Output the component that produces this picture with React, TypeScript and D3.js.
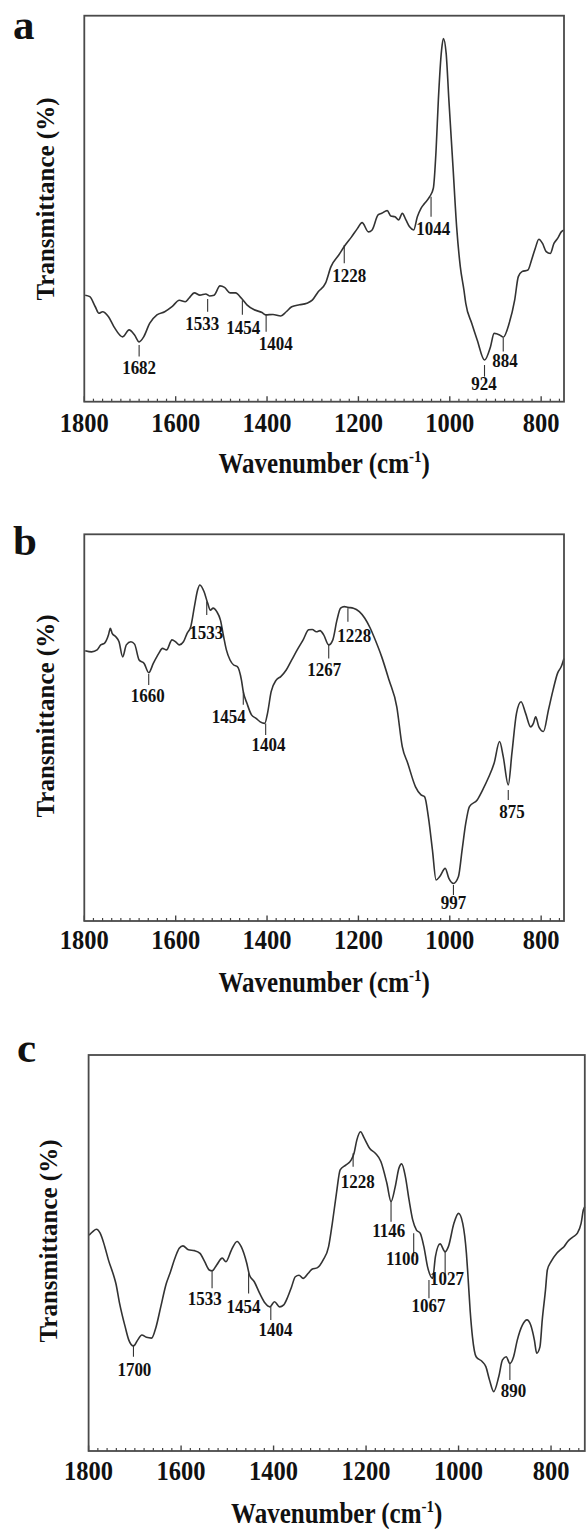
import React from "react";
import * as d3 from "d3";

// ---------- data ----------
const xTickValues = [1800, 1600, 1400, 1200, 1000, 800];

// Panel a
const aWn = [1798,1788,1776,1768,1760,1747,1735,1716,1702,1690,1680,1670,1657,1641,1624,1608,1592,1579,1571,1559,1547,1534,1526,1516,1503,1493,1481,1469,1456,1444,1428,1411,1403,1387,1370,1358,1346,1329,1313,1301,1288,1272,1260,1243,1231,1215,1202,1192,1178,1170,1157,1149,1137,1129,1120,1112,1104,1096,1088,1079,1071,1063,1055,1044,1036,1030,1025,1018,1014,1008,1002,993,985,977,969,965,952,940,924,911,903,891,883,870,858,850,842,829,821,813,805,797,789,780,772,764,756,750];
const aT = [27.6,27.2,24.6,22.9,23.3,22.0,19.4,16.8,18.6,17.3,15.5,16.8,20.3,22.5,23.3,24.6,26.3,25.9,26.8,28.2,27.6,27.9,27.4,27.6,30.0,29.6,28.2,28.2,26.8,25.1,23.8,23.1,22.5,22.6,22.2,23.3,24.6,25.1,25.5,26.3,28.5,30.7,35.0,38.0,40.2,42.7,44.9,46.4,44.0,44.5,48.4,48.8,49.5,48.1,47.9,47.1,48.8,47.1,45.3,44.5,47.9,50.1,51.4,53.1,55.3,65.2,78.2,91.1,94.1,90.3,78.2,60.9,45.3,35.0,28.9,25.5,20.3,16.0,10.8,14.2,17.7,17.3,16.7,20.3,26.3,32.4,33.7,34.1,36.7,39.7,42.1,41.0,38.9,38.4,41.0,42.3,44.0,44.5];
const aLabels = ["1682","1533","1454","1404","1228","1044","924","884"];
const aTickWn = [1680,1530,1454,1402,1231,1041,924,883];
const aTickT1 = [14.7,26.6,26.3,22.5,40.6,53.1,9.5,16.5];
const aTickT2 = [11.7,23.3,22.5,18.1,35.9,47.9,6.5,13.0];
const aLabelWn = [1680,1542,1452,1381,1220,1036,925,879];
const aLabelT = [7.2,18.6,17.5,13.4,31.1,43.2,3.0,9.0];

// Panel b
const bWn = [1798,1784,1772,1764,1756,1747,1743,1739,1731,1724,1716,1708,1698,1690,1680,1669,1659,1649,1637,1629,1620,1608,1600,1592,1583,1575,1567,1559,1552,1547,1538,1530,1524,1518,1510,1502,1495,1489,1481,1473,1465,1456,1452,1444,1434,1424,1415,1405,1399,1391,1380,1370,1358,1346,1334,1321,1309,1301,1292,1284,1276,1265,1256,1247,1239,1231,1223,1211,1198,1186,1174,1166,1149,1133,1116,1104,1092,1075,1063,1055,1047,1038,1030,1022,1010,1002,992,981,973,965,957,940,928,916,903,891,883,872,864,854,844,834,823,817,812,805,795,784,774,764,756,750];
const bT = [69.9,69.6,70.1,71.4,71.8,74.0,75.7,74.4,73.5,72.2,68.3,71.4,72.2,71.6,67.5,66.6,64.2,66.6,69.2,70.5,70.1,72.7,72.2,71.4,72.2,74.4,76.1,81.3,85.6,86.9,85.2,82.2,80.4,80.9,80.0,77.8,73.5,70.1,67.5,66.2,65.8,62.3,59.3,56.3,53.3,52.4,51.5,51.1,53.7,59.3,62.3,63.2,64.9,67.5,70.1,72.7,75.3,75.4,74.8,75.1,74.0,71.4,72.7,77.8,80.9,81.3,81.1,80.9,80.0,78.3,75.7,73.5,68.3,62.3,55.4,45.1,40.8,34.7,32.6,32.1,27.0,18.4,10.6,11.5,13.6,11.0,9.7,11.5,18.4,25.3,29.6,31.3,33.9,36.9,40.8,46.4,42.5,35.2,43.4,53.7,56.7,53.7,50.2,51.1,52.8,50.2,49.0,54.6,59.7,64.1,65.8,67.9];
const bLabels = ["1660","1533","1454","1404","1267","1228","875","997"];
const bTickWn = [1659,1532,1452,1403,1265,1223,872,992];
const bTickT1 = [63.9,82.6,59.3,51.1,71.4,80.9,33.9,9.3];
const bTickT2 = [61.0,79.1,55.9,48.1,67.9,77.4,31.3,6.7];
const bLabelWn = [1661,1533,1484,1397,1275,1209,864,992];
const bLabelT = [56.6,72.9,51.1,44.0,63.4,72.2,26.6,3.0];

// Panel c
const cWn = [1799,1791,1783,1775,1765,1757,1745,1741,1733,1721,1713,1703,1694,1685,1675,1664,1654,1644,1632,1624,1612,1604,1596,1584,1571,1559,1549,1539,1533,1523,1511,1503,1491,1479,1470,1458,1452,1442,1430,1418,1408,1398,1387,1378,1369,1361,1353,1345,1336,1325,1317,1305,1293,1281,1273,1264,1256,1244,1232,1226,1220,1212,1204,1192,1180,1168,1155,1146,1137,1129,1123,1115,1107,1099,1091,1083,1075,1067,1056,1050,1040,1029,1022,1010,1000,991,983,980,975,970,962,949,941,933,924,913,905,897,889,881,873,862,852,844,836,831,824,819,812,808,800,788,780,772,764,752,743,735,730,727];
const cT = [54.5,55.4,56.0,55.0,51.6,48.2,44.0,42.3,37.3,31.4,28.0,26.5,28.0,29.3,28.7,28.5,31.4,36.4,42.3,44.9,49.1,51.2,51.8,50.8,50.6,49.9,47.8,45.7,45.5,47.0,48.7,47.8,50.8,52.9,51.6,47.4,44.4,42.8,39.8,37.3,36.4,37.7,36.4,36.9,39.0,41.5,44.0,44.4,43.6,44.9,45.9,46.3,48.2,51.6,57.5,65.1,71.0,72.2,73.5,75.2,78.5,80.6,79.0,76.4,75.2,73.1,67.6,63.0,66.7,71.4,72.5,69.3,63.4,58.3,55.8,55.0,51.6,46.5,43.6,49.1,52.3,50.3,51.6,57.5,60.0,57.5,49.9,44.9,35.6,28.9,23.8,22.6,21.3,17.9,15.0,18.8,23.0,23.8,22.1,23.8,28.0,31.8,33.1,31.8,28.0,24.7,26.3,33.1,40.7,45.7,47.8,49.9,50.8,51.6,52.9,54.1,55.0,57.5,60.9,61.7];
const cLabels = ["1700","1533","1454","1404","1228","1146","1100","1067","1027","890"];
const cTickWn = [1703,1533,1454,1406,1228,1146,1097,1064,1029,889];
const cTickT1 = [26.8,45.7,44.9,36.4,75.2,63.0,55.0,43.2,50.3,22.1];
const cTickT2 = [23.8,41.1,39.8,33.1,71.8,57.9,49.1,38.6,44.0,17.9];
const cLabelWn = [1701,1549,1465,1396,1218,1151,1121,1065,1025,881];
const cLabelT = [18.9,36.9,34.9,29.0,66.3,54.1,47.0,35.2,41.9,13.7];

// ---------- drawing ----------
const FONT = "'Liberation Serif', 'Times New Roman', serif";
const STRETCH = 1.15;
const INK = "#333";

type Geo = {
  left: number; right: number; top: number; bottom: number;
  domain: [number, number]; letter: string; letterX: number; letterY: number;
  tickLabelY: number; titleY: number; yTitleX: number; yTitleY: number;
};

const panels: { g: Geo; wn: number[]; t: number[]; labels: string[]; tw: number[]; t1: number[]; t2: number[]; lw: number[]; lt: number[] }[] = [
  { g: { left: 84.3, right: 564, top: 15.7, bottom: 401.7, domain: [1800, 750], letter: "a", letterX: 13, letterY: 39, tickLabelY: 432, titleY: 473, yTitleX: 54, yTitleY: 199 },
    wn: aWn, t: aT, labels: aLabels, tw: aTickWn, t1: aTickT1, t2: aTickT2, lw: aLabelWn, lt: aLabelT },
  { g: { left: 84.3, right: 564, top: 534.3, bottom: 921, domain: [1800, 750], letter: "b", letterX: 13, letterY: 555, tickLabelY: 949, titleY: 992, yTitleX: 54, yTitleY: 716 },
    wn: bWn, t: bT, labels: bLabels, tw: bTickWn, t1: bTickT1, t2: bTickT2, lw: bLabelWn, lt: bLabelT },
  { g: { left: 88.6, right: 584.8, top: 1055, bottom: 1451, domain: [1800, 727], letter: "c", letterX: 17, letterY: 1062, tickLabelY: 1480, titleY: 1523, yTitleX: 57, yTitleY: 1241 },
    wn: cWn, t: cT, labels: cLabels, tw: cTickWn, t1: cTickT1, t2: cTickT2, lw: cLabelWn, lt: cLabelT },
];

function SText({ x, y, size, children, anchor = "middle" }: any) {
  return (
    <text transform={`translate(${x},${y}) scale(1,${STRETCH})`} textAnchor={anchor}
      fontFamily={FONT} fontWeight="bold" fontSize={size} fill="#111">
      {children}
    </text>
  );
}

function Panel({ p }: any) {
  const g: Geo = p.g;
  const x = d3.scaleLinear().domain(g.domain).range([g.left, g.right]);
  const y = d3.scaleLinear().domain([0, 100]).range([g.bottom, g.top]);
  const idx = d3.range(p.wn.length);
  const line = d3.line<number>()
    .x((i) => x(p.wn[i]))
    .y((i) => y(p.t[i]))
    .curve(d3.curveMonotoneX);
  const minor = d3.range(Math.ceil(g.domain[1] / 20) * 20, g.domain[0] + 1, 20).filter((v) => v % 200 !== 0);
  const cx = (g.left + g.right) / 2;
  return (
    <g>
      <text x={g.letterX} y={g.letterY} fontFamily={FONT} fontWeight="bold" fontSize={43} fill="#111">{g.letter}</text>
      <path d={line(idx) || ""} fill="none" stroke={INK} strokeWidth={1.6} strokeLinejoin="round" />
      {p.labels.map((lab: string, i: number) => (
        <g key={lab + i}>
          <line x1={x(p.tw[i])} x2={x(p.tw[i])} y1={y(p.t1[i])} y2={y(p.t2[i])} stroke={INK} strokeWidth={1.1} />
          <SText x={x(p.lw[i])} y={y(p.lt[i])} size={17}>{lab}</SText>
        </g>
      ))}
      {minor.map((v) => (
        <line key={"m" + v} x1={x(v)} x2={x(v)} y1={g.bottom} y2={g.bottom - 3} stroke="#444" strokeWidth={1.2} />
      ))}
      {xTickValues.map((v) => (
        <g key={"t" + v}>
          <line x1={x(v)} x2={x(v)} y1={g.bottom} y2={g.bottom - 5.5} stroke="#444" strokeWidth={1.4} />
          <SText x={x(v)} y={g.tickLabelY} size={24.5}>{v}</SText>
        </g>
      ))}
      <rect x={g.left} y={g.top} width={g.right - g.left} height={g.bottom - g.top} fill="none" stroke="#4a4a4a" strokeWidth={1.8} />
      <SText x={cx} y={g.titleY} size={25}>
        Wavenumber (cm<tspan fontSize={15} dy={-10}>-1</tspan><tspan dy={10}>)</tspan>
      </SText>
      <text transform={`translate(${g.yTitleX},${g.yTitleY}) rotate(-90)`} textAnchor="middle"
        fontFamily={FONT} fontWeight="bold" fontSize={25} fill="#111">
        Transmittance (%)
      </text>
    </g>
  );
}

export default function App() {
  return (
    <svg width={586} height={1529} style={{ position: "absolute", left: 0, top: 0, background: "#fff" }}>
      <rect x={0} y={0} width={586} height={1529} fill="#fff" />
      {panels.map((p, i) => <Panel key={i} p={p} />)}
    </svg>
  );
}
